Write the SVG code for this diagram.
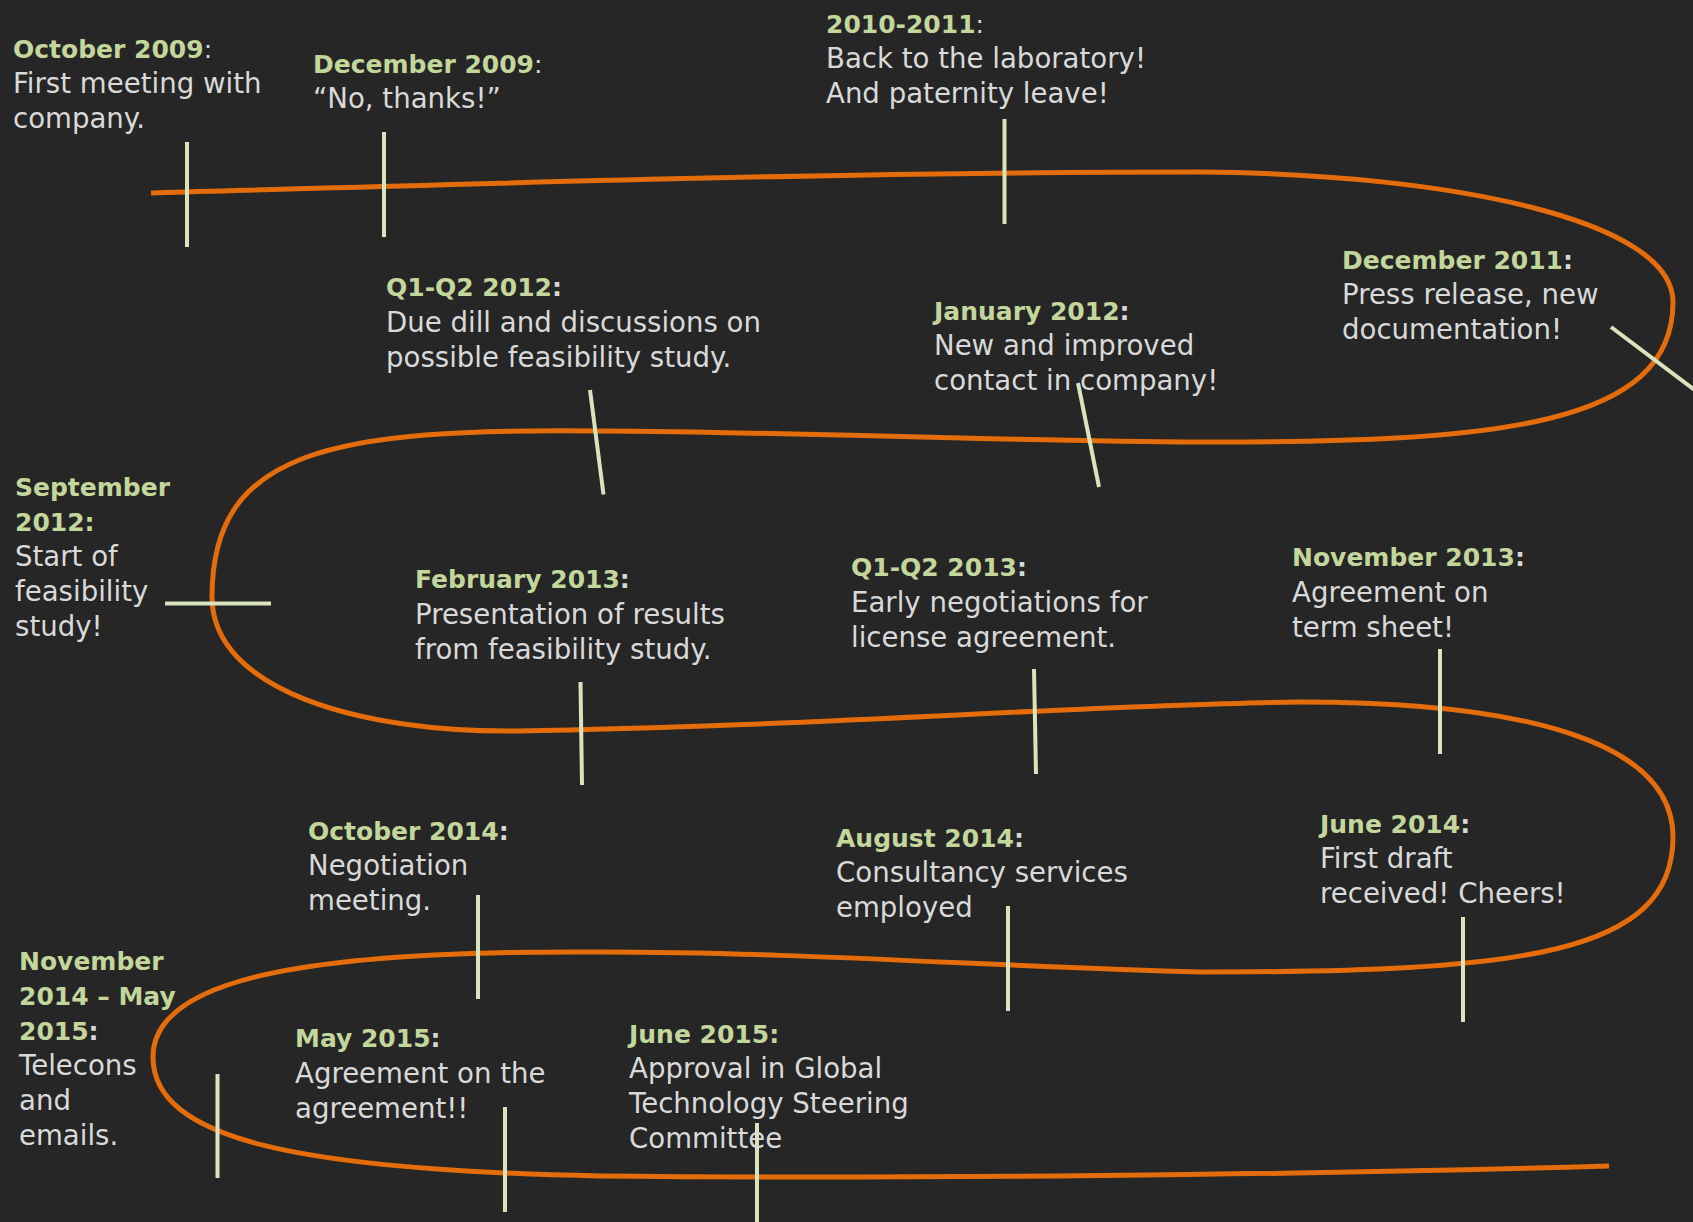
<svg xmlns="http://www.w3.org/2000/svg" width="1693" height="1222" viewBox="0 0 1693 1222">
<style>
.h{font-family:"DejaVu Sans","Liberation Sans",sans-serif;font-weight:bold;font-size:25px;fill:#C3D69B}
.b{font-family:"DejaVu Sans","Liberation Sans",sans-serif;font-size:27.6px;fill:#D9D9D9}
.c{fill:#D9D9D9}
.cr{fill:#D9D9D9;font-weight:normal}
.tl{fill:none;stroke:#E46C0A;stroke-width:5;stroke-linecap:butt}
.tk{stroke:#D7E4BD;stroke-width:4;fill:none}
</style>
<rect x="0" y="0" width="1693" height="1222" fill="#262626"/>
<g id="connectors">
<path class="tl" d="M151,193 C500,183 850,172 1200,172 C1450,174 1673,220 1673,302 C1673,425 1500,443 1200,442 C1000,441 800,432 600,431 C330,428 212,450 212,597 C212,690 360,733 518,731 C800,727 1100,704 1300,702 C1520,702 1673,740 1673,837 C1673,955 1520,972 1200,972 C1000,967 800,952 600,952 C300,950 153,980 153,1057 C153,1140 300,1170 600,1176 C900,1179 1300,1175 1609,1166"/>
<line class="tk" x1="187" y1="142" x2="187" y2="247"/>
<line class="tk" x1="384" y1="132" x2="384" y2="237"/>
<line class="tk" x1="1004.5" y1="119" x2="1004.5" y2="224"/>
<line class="tk" x1="1611" y1="327" x2="1700" y2="394"/>
<line class="tk" x1="1078" y1="383" x2="1099" y2="487"/>
<line class="tk" x1="590" y1="390" x2="603.5" y2="494.5"/>
<line class="tk" x1="165" y1="603.5" x2="271" y2="603.5"/>
<line class="tk" x1="580.5" y1="682" x2="582" y2="785"/>
<line class="tk" x1="1034" y1="669" x2="1036" y2="774"/>
<line class="tk" x1="1440" y1="649" x2="1440" y2="754"/>
<line class="tk" x1="1463" y1="917" x2="1463" y2="1022"/>
<line class="tk" x1="1008" y1="906" x2="1008" y2="1011"/>
<line class="tk" x1="478" y1="895" x2="478" y2="999"/>
<line class="tk" x1="217.5" y1="1074" x2="217.5" y2="1178"/>
<line class="tk" x1="505" y1="1107" x2="505" y2="1212"/>
<line class="tk" x1="757" y1="1123" x2="757" y2="1222"/>
</g>
<g id="oct2009">
<text class="h" x="13" y="57.5">October 2009<tspan class="cr">:</tspan></text>
<text class="b" x="13" y="92.5">First meeting with</text>
<text class="b" x="13" y="127.5">company.</text>
</g>
<g id="dec2009">
<text class="h" x="313" y="72.5">December 2009<tspan class="cr">:</tspan></text>
<text class="b" x="313" y="107.5">“No, thanks!”</text>
</g>
<g id="y2010-2011">
<text class="h" x="826" y="32.5">2010-2011<tspan class="cr">:</tspan></text>
<text class="b" x="826" y="67.5">Back to the laboratory!</text>
<text class="b" x="826" y="102.5">And paternity leave!</text>
</g>
<g id="dec2011">
<text class="h" x="1342" y="269">December 2011<tspan class="c">:</tspan></text>
<text class="b" x="1342" y="304">Press release, new</text>
<text class="b" x="1342" y="339">documentation!</text>
</g>
<g id="jan2012">
<text class="h" x="934" y="320">January 2012<tspan class="c">:</tspan></text>
<text class="b" x="934" y="355">New and improved</text>
<text class="b" x="934" y="390">contact in company!</text>
</g>
<g id="q1q2-2012">
<text class="h" x="386" y="296">Q1-Q2 2012<tspan class="c">:</tspan></text>
<text class="b" x="386" y="331.5">Due dill and discussions on</text>
<text class="b" x="386" y="366.5">possible feasibility study.</text>
</g>
<g id="sep2012">
<text class="h" x="15" y="496">September</text>
<text class="h" x="15" y="530.5">2012:</text>
<text class="b" x="15" y="566">Start of</text>
<text class="b" x="15" y="600.5">feasibility</text>
<text class="b" x="15" y="636">study!</text>
</g>
<g id="feb2013">
<text class="h" x="415" y="588">February 2013<tspan class="c">:</tspan></text>
<text class="b" x="415" y="623.5">Presentation of results</text>
<text class="b" x="415" y="658.5">from feasibility study.</text>
</g>
<g id="q1q2-2013">
<text class="h" x="851" y="576">Q1-Q2 2013<tspan class="c">:</tspan></text>
<text class="b" x="851" y="611.5">Early negotiations for</text>
<text class="b" x="851" y="646.5">license agreement.</text>
</g>
<g id="nov2013">
<text class="h" x="1292" y="565.5">November 2013<tspan class="c">:</tspan></text>
<text class="b" x="1292" y="601.5">Agreement on</text>
<text class="b" x="1292" y="636.5">term sheet!</text>
</g>
<g id="jun2014">
<text class="h" x="1320" y="833">June 2014<tspan class="c">:</tspan></text>
<text class="b" x="1320" y="868">First draft</text>
<text class="b" x="1320" y="903">received! Cheers!</text>
</g>
<g id="aug2014">
<text class="h" x="836" y="846.5">August 2014<tspan class="c">:</tspan></text>
<text class="b" x="836" y="881.5">Consultancy services</text>
<text class="b" x="836" y="916.5">employed</text>
</g>
<g id="oct2014">
<text class="h" x="308" y="840">October 2014<tspan class="c">:</tspan></text>
<text class="b" x="308" y="875">Negotiation</text>
<text class="b" x="308" y="910">meeting.</text>
</g>
<g id="nov2014-may2015">
<text class="h" x="19" y="970">November</text>
<text class="h" x="19" y="1005">2014 – May</text>
<text class="h" x="19" y="1040">2015<tspan class="c">:</tspan></text>
<text class="b" x="19" y="1075">Telecons</text>
<text class="b" x="19" y="1110">and</text>
<text class="b" x="19" y="1145">emails.</text>
</g>
<g id="may2015">
<text class="h" x="295" y="1046.5">May 2015<tspan class="c">:</tspan></text>
<text class="b" x="295" y="1083">Agreement on the</text>
<text class="b" x="295" y="1118">agreement!!</text>
</g>
<g id="jun2015">
<text class="h" x="629" y="1043">June 2015:</text>
<text class="b" x="629" y="1078">Approval in Global</text>
<text class="b" x="629" y="1113">Technology Steering</text>
<text class="b" x="629" y="1148">Committee</text>
</g>
</svg>
